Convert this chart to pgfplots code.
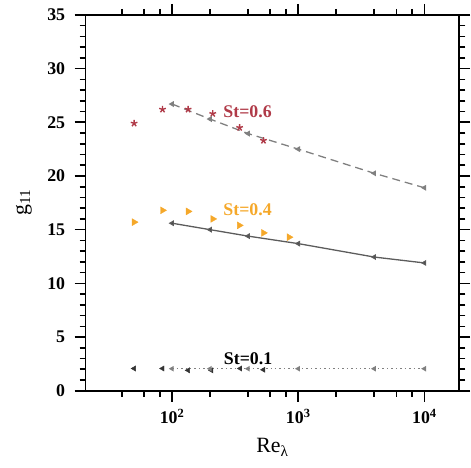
\documentclass[border=0pt]{standalone}
\usepackage{fontspec}
\setmainfont{Liberation Serif}
\usepackage{pgfplots}
\pgfplotsset{compat=1.18}
\definecolor{stred}{HTML}{B03A48}
\definecolor{storange}{HTML}{F5A82A}
\definecolor{dk}{HTML}{333333}
\begin{document}
\begin{tikzpicture}
\begin{axis}[
  scale only axis, width=376bp, height=378bp,
  xmode=log, xmin=20.6, xmax=18900, ymin=0, ymax=35,
  axis line style={line width=2bp},
  every tick/.style={line width=1.6bp, black},
  tick align=outside,
  major tick length=11bp, minor tick length=6bp,
  xtick={100,1000,10000},
  xticklabels={\textbf{10\textsuperscript{2}},\textbf{10\textsuperscript{3}},\textbf{10\textsuperscript{4}}},
  minor xtick={40,60,80,200,400,600,800,2000,4000,6000,8000},
  ytick={0,5,...,35},
  minor ytick={1,2,3,4,6,7,8,9,11,12,13,14,16,17,18,19,21,22,23,24,26,27,28,29,31,32,33,34},
  /pgf/number format/assume math mode=true,
  ticklabel style={font=\fontsize{18}{18}\selectfont\bfseries},
  yticklabel style={xshift=-6bp},
  xticklabel style={yshift=-4bp},
  xlabel={Re\textsubscript{λ}},
  ylabel={g\textsubscript{11}},
  label style={font=\fontsize{22}{22}\selectfont},
  xlabel style={at={(axis description cs:0.5,-0.151)}, anchor=center},
  ylabel style={at={(axis description cs:-0.165,0.5)}, anchor=center},
  clip=false,
]
% St=0.6
\addplot[only marks, mark=star, mark size=3.5bp, stred, line width=1.4bp]
  coordinates {(50,24.9)(84,26.2)(134,26.2)(210,25.8)(343,24.5)(530,23.3)};
\addplot[gray, line width=1.3bp, dash pattern=on 8bp off 5bp,
  mark=triangle*, mark size=2.2bp, mark options={rotate=90, solid, fill=gray}]
  coordinates {(100,26.7)(200,25.3)(400,23.95)(1000,22.5)(4000,20.25)(10000,18.9)};
% St=0.4
\addplot[only marks, mark=triangle*, mark size=4bp, storange, mark options={rotate=-90, fill=storange}]
  coordinates {(50,15.7)(84,16.8)(134,16.7)(210,16.0)(341,15.4)(530,14.7)(845,14.3)};
\addplot[dk!80, line width=1.3bp,
  mark=triangle*, mark size=2.2bp, mark options={rotate=90, fill=dk}]
  coordinates {(100,15.6)(200,15.0)(400,14.4)(1000,13.7)(4000,12.45)(10000,11.9)};
% St=0.1
\addplot[only marks, mark=triangle*, mark size=3bp, dk, mark options={rotate=90, fill=dk}]
  coordinates {(50,2.07)(84,2.07)(134,1.9)(205,1.9)(347,2.07)(530,1.95)};
\addplot[gray, line width=1.3bp, dash pattern=on 1.5bp off 3bp,
  mark=triangle*, mark size=2bp, mark options={rotate=90, solid, fill=gray}]
  coordinates {(100,2.05)(200,2.05)(400,2.05)(1000,2.05)(4000,2.05)(10000,2.05)};
\node[stred, font=\fontsize{18}{18}\selectfont\bfseries] at (axis cs:397,26.0) {St=0.6};
\node[storange, font=\fontsize{18}{18}\selectfont\bfseries] at (axis cs:397,16.9) {St=0.4};
\node[black, font=\fontsize{18}{18}\selectfont\bfseries] at (axis cs:400,2.95) {St=0.1};
\end{axis}
\path (current axis.south west) ++(-86bp,-77bp) rectangle ++(471bp,470bp);
\end{tikzpicture}
\end{document}
